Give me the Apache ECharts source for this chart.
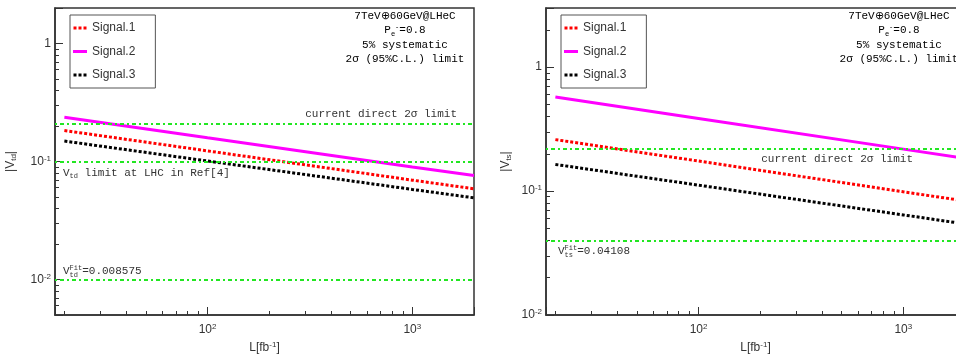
<!DOCTYPE html>
<html><head><meta charset="utf-8">
<script src="https://cdn.jsdelivr.net/npm/echarts@6/dist/echarts.min.js"></script>
<style>html,body{margin:0;padding:0;background:#fff}#c{width:956px;height:356px}</style>
</head><body><div id="c"></div>
<script>
// ---- data ----
const lumi = [20, 100, 1000, 2000];               // L [fb^-1]
const seriesNames = ['Signal.1', 'Signal.2', 'Signal.3'];
const vtdSignal1 = [0.183, 0.123, 0.0695, 0.0587];
const vtdSignal2 = [0.237, 0.159, 0.090, 0.076];
const vtdSignal3 = [0.149, 0.101, 0.058, 0.0492];
const vtsSignal1 = [0.26, 0.1746, 0.0987, 0.0832];
const vtsSignal2 = [0.573, 0.385, 0.218, 0.1835];
const vtsSignal3 = [0.164, 0.1116, 0.0642, 0.0543];
const vtdLimits = [0.211, 0.101, 0.008575];        // current direct, LHC Ref[4], fit
const vtsLimits = [0.217, 0.04108];                // current direct, fit
const xRange = [18, 2000];
const vtdRange = [0.005, 2];
const vtsRange = [0.01, 3];

// ---- style ----
const SANS = 'Liberation Sans';
const MONO = 'Liberation Mono';
const TXT = '#333';
const AX = '#333';
const GREEN = '#22e622';
const DOTTED_ICON = 'path://M0 0h3v3H0z M5 0h3v3H5z M10 0h3v3H10z';

const labelRich = {
  b: {fontFamily: SANS, fontSize: 12, lineHeight: 14, color: TXT},
  s: {fontFamily: SANS, fontSize: 8, lineHeight: 9, color: TXT, verticalAlign: 'top'}
};
const nameRich = {
  a: {fontFamily: SANS, fontSize: 12, lineHeight: 14, color: TXT},
  s: {fontFamily: SANS, fontSize: 8, lineHeight: 9, color: TXT, verticalAlign: 'top'},
  d: {fontFamily: SANS, fontSize: 8, lineHeight: 9, color: TXT, verticalAlign: 'bottom'}
};
const monoRich = {
  m: {fontFamily: MONO, fontSize: 11, lineHeight: 14.3, color: TXT},
  sb: {fontFamily: MONO, fontSize: 7, lineHeight: 8, color: TXT, verticalAlign: 'bottom'},
  sbz: {fontFamily: MONO, fontSize: 7, lineHeight: 8, color: TXT, verticalAlign: 'bottom', width: 0},
  sp: {fontFamily: MONO, fontSize: 7, lineHeight: 8, color: TXT, verticalAlign: 'top'}
};

function powLabel(v) {
  const e = Math.log10(v), r = Math.round(e);
  if (Math.abs(e - r) > 1e-6) return '';
  if (r === 0) return '{b|1}';
  return '{b|10}{s|' + r + '}';
}

function xAxisCfg(gi) {
  return {
    type: 'log', logBase: 10, gridIndex: gi, min: xRange[0], max: xRange[1],
    axisLine: {show: true, lineStyle: {color: AX, width: 1.5}},
    axisTick: {show: true, inside: true, length: 8, lineStyle: {color: AX, width: 1}},
    minorTick: {show: true, splitNumber: 9, length: 4, lineStyle: {color: AX, width: 1}},
    splitLine: {show: false},
    axisLabel: {formatter: powLabel, margin: 8, rich: labelRich},
    name: '{a|L[fb}{s|-1}{a|]}', nameLocation: 'middle', nameGap: 22,
    nameTextStyle: {rich: nameRich}
  };
}
function yAxisCfg(gi, range, sub, gap) {
  return {
    type: 'log', logBase: 10, gridIndex: gi, min: range[0], max: range[1],
    axisLine: {show: true, lineStyle: {color: AX, width: 1.5}},
    axisTick: {show: true, inside: true, length: 8, lineStyle: {color: AX, width: 1}},
    minorTick: {show: true, splitNumber: 9, length: 4, lineStyle: {color: AX, width: 1}},
    splitLine: {show: false},
    axisLabel: {formatter: powLabel, margin: 4, rich: labelRich},
    name: '{a||V}{d|' + sub + '}{a||}', nameLocation: 'middle', nameGap: gap,
    nameTextStyle: {rich: nameRich}
  };
}

const styles = [
  {color: '#ff0000', type: [3, 2], icon: DOTTED_ICON},
  {color: '#ff00ff', type: 'solid', icon: 'rect'},
  {color: '#000000', type: [3, 2], icon: DOTTED_ICON}
];

function lineSeries(name, vals, gi, st) {
  return {
    name: name, type: 'line', xAxisIndex: gi, yAxisIndex: gi,
    data: lumi.map((l, i) => [l, vals[i]]),
    symbol: 'none', showSymbol: false,
    lineStyle: {color: st.color, type: st.type, width: 3, cap: 'butt'},
    itemStyle: {color: st.color},
    silent: true, z: 3
  };
}

function limitSeries(gi, items) {
  return {
    name: 'limits' + gi, type: 'line', xAxisIndex: gi, yAxisIndex: gi, data: [],
    markLine: {
      silent: true, symbol: 'none', animation: false,
      lineStyle: {color: GREEN, type: [2, 3, 4, 3], width: 2},
      data: items
    }
  };
}

function limitItem(value, text, position, distance, padding) {
  return {
    yAxis: value,
    label: {show: true, position: position, distance: distance, padding: padding,
            formatter: text, rich: monoRich, color: TXT, fontFamily: MONO, fontSize: 11}
  };
}

const infoText = '{m|7TeV⊕60GeV@LHeC}\n{m|P}{sb|e}{sp|-}{m|=0.8}\n{m|5% systematic}\n{m|2σ (95%C.L.) limit}';

function legendCfg(left) {
  return {
    left: left, top: 15, orient: 'vertical',
    itemWidth: 14, itemHeight: 3, itemGap: 9.5,
    padding: [6, 20, 6, 3],
    borderColor: '#555', borderWidth: 1, backgroundColor: '#fff',
    textStyle: {fontFamily: SANS, fontSize: 12, color: TXT, lineHeight: 14},
    data: seriesNames.map((n, i) => ({name: n, icon: styles[i].icon, itemStyle: {color: styles[i].color, borderWidth: 0}})),
    selectedMode: false
  };
}

const chart = echarts.init(document.getElementById('c'), null, {renderer: 'canvas'});
chart.setOption({
  animation: false,
  backgroundColor: '#fff',
  grid: [
    {left: 55, top: 8, width: 419, height: 307, show: true, borderColor: AX, borderWidth: 1.5, outerBoundsMode: 'none', containLabel: false},
    {left: 546, top: 8, width: 419, height: 307, show: true, borderColor: AX, borderWidth: 1.5, outerBoundsMode: 'none', containLabel: false}
  ],
  xAxis: [xAxisCfg(0), xAxisCfg(1)],
  yAxis: [yAxisCfg(0, vtdRange, 'td', 37), yAxisCfg(1, vtsRange, 'ts', 33)],
  legend: [legendCfg(70), legendCfg(561)],
  graphic: [
    {type: 'text', x: 405, y: 9, z: 10, style: {text: infoText, rich: monoRich, align: 'center', verticalAlign: 'top', textAlign: 'center', textVerticalAlign: 'top'}},
    {type: 'text', x: 899, y: 9, z: 10, style: {text: infoText, rich: monoRich, align: 'center', verticalAlign: 'top', textAlign: 'center', textVerticalAlign: 'top'}}
  ],
  series: [
    lineSeries(seriesNames[0], vtdSignal1, 0, styles[0]),
    lineSeries(seriesNames[1], vtdSignal2, 0, styles[1]),
    lineSeries(seriesNames[2], vtdSignal3, 0, styles[2]),
    lineSeries(seriesNames[0], vtsSignal1, 1, styles[0]),
    lineSeries(seriesNames[1], vtsSignal2, 1, styles[1]),
    lineSeries(seriesNames[2], vtsSignal3, 1, styles[2]),
    limitSeries(0, [
      limitItem(vtdLimits[0], '{m|current direct 2σ limit}', 'insideEndTop', 2, [0, 15, 0, 0]),
      limitItem(vtdLimits[1], '{m|V}{sb|td}{m| limit at LHC in Ref[4]}', 'insideStartBottom', 4, [0, 0, 0, 4]),
      limitItem(vtdLimits[2], '{m|V}{sbz|td}{sp|Fit}{m|=0.008575}', 'insideStartTop', 1, [0, 0, 0, 7])
    ]),
    limitSeries(1, [
      limitItem(vtsLimits[0], '{m|current direct 2σ limit}', 'insideEndBottom', 3, [0, 49, 0, 0]),
      limitItem(vtsLimits[1], '{m|V}{sbz|ts}{sp|Fit}{m|=0.04108}', 'insideStartBottom', 4, [0, 0, 0, 8])
    ])
  ]
});
</script>
</body></html>
